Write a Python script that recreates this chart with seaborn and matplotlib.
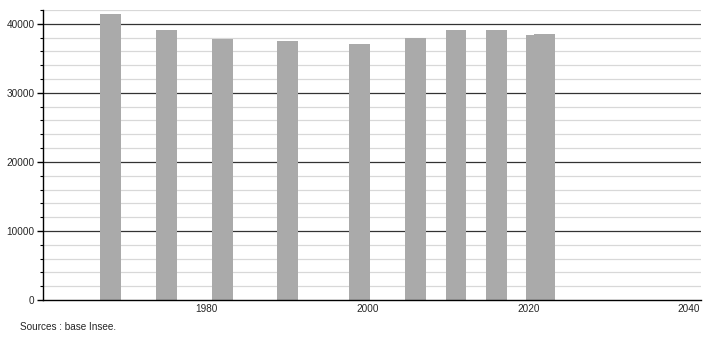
import matplotlib
matplotlib.use("Agg")
import matplotlib.pyplot as plt
from matplotlib.ticker import MultipleLocator
import seaborn as sns
import pandas as pd

years = [1968, 1975, 1982, 1990, 1999, 2006, 2011, 2016, 2021, 2022]
population = [41400, 39100, 37800, 37500, 37050, 38000, 39100, 39100, 38400, 38500]
x_ticks = [1980, 2000, 2020, 2040]
y_ticks = [0, 10000, 20000, 30000, 40000]
source_text = "Sources : base Insee."

sns.set_theme(style="white")
plt.rcParams["font.family"] = ["Liberation Sans", "DejaVu Sans"]

df = pd.DataFrame({"year": years, "pop": population})

fig = plt.figure(figsize=(7.1, 3.4), dpi=100)
ax = fig.add_axes([43 / 710, 40 / 340, (701 - 43) / 710, 290 / 340])

sns.barplot(data=df, x="year", y="pop", native_scale=True, width=2.58,
            color="#aaaaaa", saturation=1, edgecolor="none", ax=ax, zorder=3)

ax.set_xlim(1959.63, 2041.47)
ax.set_ylim(0, 42000)
ax.set_xticks(x_ticks)
ax.set_xticklabels([str(t) for t in x_ticks])
ax.set_yticks(y_ticks)
ax.set_yticklabels([str(t) for t in y_ticks])
ax.yaxis.set_minor_locator(MultipleLocator(2000))

for v in range(2000, 42001, 2000):
    if v % 10000 == 0:
        ax.axhline(v, color="#333333", lw=0.9, zorder=1)
    else:
        ax.axhline(v, color="#d8d8d8", lw=0.9, zorder=1)

for s in ["top", "right"]:
    ax.spines[s].set_visible(False)
for s in ["left", "bottom"]:
    ax.spines[s].set_color("black")
    ax.spines[s].set_linewidth(1.0)
    ax.spines[s].set_zorder(4)

ax.tick_params(axis="y", which="major", length=4, width=1, color="black",
               labelsize=7.2, pad=2, left=True)
ax.tick_params(axis="y", which="minor", length=2, width=0.8, color="black", left=True)
ax.tick_params(axis="x", length=0, labelsize=7.2, pad=3)
ax.set_xlabel("")
ax.set_ylabel("")

fig.text(20 / 710, 1 - 327 / 340, source_text, fontsize=7.2, va="center", ha="left")

fig.savefig("out.png", dpi=100)
